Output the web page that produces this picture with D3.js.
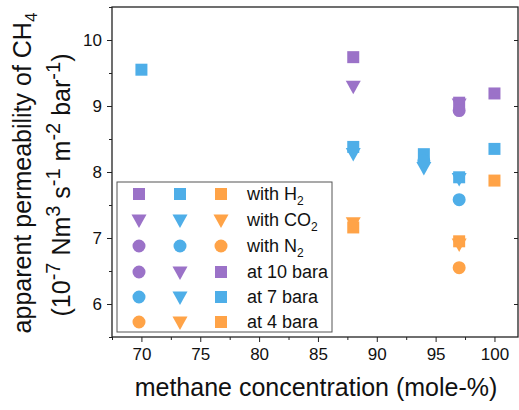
<!DOCTYPE html>
<html>
<head>
<meta charset="utf-8">
<script src="https://cdn.jsdelivr.net/npm/d3@7"></script>
<style>
  body { margin: 0; background: #fff; }
  svg { display: block; font-family: "Liberation Sans", Arial, sans-serif; }
</style>
</head>
<body>
<svg id="chart" width="519" height="410"></svg>
<script>
// CH4 permeability vs methane concentration, by co-gas and feed pressure
const pressures = ["10", "7", "4"];
const pressureColors = ["#9b72c8", "#4eaee8", "#ffa347"];
const gases = ["H2", "CO2", "N2"];
const gasShapes = ["square", "triangle", "circle"];

// [methane %, permeability] per gas and pressure
const h2_10 = [[88, 9.74], [97, 9.05], [100, 9.19]];
const h2_7 = [[70, 9.55], [88, 8.38], [94, 8.27], [97, 7.92], [100, 8.35]];
const h2_4 = [[88, 7.16], [97, 6.95], [100, 7.87]];
const co2_10 = [[88, 9.30], [97, 9.03]];
const co2_7 = [[88, 8.28], [94, 8.07], [97, 7.90]];
const co2_4 = [[88, 7.23], [97, 6.91]];
const n2_10 = [[97, 8.93]];
const n2_7 = [[94, 8.17], [97, 7.58]];
const n2_4 = [[97, 6.55]];

const xTicks = [70, 75, 80, 85, 90, 95, 100];
const yTicks = [6, 7, 8, 9, 10];

const series = [
  { shape: "square", color: 0, data: h2_10 },
  { shape: "square", color: 1, data: h2_7 },
  { shape: "square", color: 2, data: h2_4 },
  { shape: "triangle", color: 0, data: co2_10 },
  { shape: "triangle", color: 1, data: co2_7 },
  { shape: "triangle", color: 2, data: co2_4 },
  { shape: "circle", color: 0, data: n2_10 },
  { shape: "circle", color: 1, data: n2_7 },
  { shape: "circle", color: 2, data: n2_4 }
];

const svg = d3.select("#chart");
const plotL = 112, plotR = 518, plotT = 7, plotB = 337;

const x = d3.scaleLinear().domain([67.5, 102]).range([plotL, plotR]);
const y = d3.scaleLinear().domain([5.5, 10.5]).range([plotB, plotT]);

// symbol path generators
function symbolPath(shape, cx, cy) {
  if (shape === "square") {
    const s = 6;
    return `M${cx - s},${cy - s}H${cx + s}V${cy + s}H${cx - s}Z`;
  }
  if (shape === "triangle") {
    const w = 7.5, h1 = 5.5, h2 = 8;
    return `M${cx - w},${cy - h1}H${cx + w}L${cx},${cy + h2}Z`;
  }
  const r = 6.5;
  return `M${cx - r},${cy}A${r},${r} 0 1,0 ${cx + r},${cy}A${r},${r} 0 1,0 ${cx - r},${cy}Z`;
}

// axes
const fmt = d3.format("d");
svg.append("g").attr("transform", `translate(0,${plotB})`)
  .call(d3.axisBottom(x).tickValues(xTicks).tickFormat(fmt).tickSize(5).tickPadding(6));
svg.append("g").attr("transform", `translate(0,${plotB})`)
  .call(d3.axisBottom(x).tickValues(d3.range(67.5, 102.01, 2.5).filter(v => v % 5 !== 0)).tickFormat("").tickSize(3));
svg.append("g").attr("transform", `translate(${plotL},0)`)
  .call(d3.axisLeft(y).tickValues(yTicks).tickFormat(fmt).tickSize(5).tickPadding(5));
svg.append("g").attr("transform", `translate(${plotL},0)`)
  .call(d3.axisLeft(y).tickValues(d3.range(5.5, 10.51, 1)).tickFormat("").tickSize(3));
svg.append("g").attr("transform", `translate(${plotR},0)`)
  .call(d3.axisRight(y).tickValues(yTicks).tickFormat("").tickSize(-4));

svg.selectAll(".domain").remove();
svg.selectAll(".tick line").attr("stroke", "#222").attr("stroke-width", 1);
svg.selectAll(".tick text").attr("font-size", 17).attr("fill", "#111")
  .attr("font-family", "Liberation Sans, Arial, sans-serif");

// frame
svg.append("rect")
  .attr("x", plotL).attr("y", plotT)
  .attr("width", plotR - plotL).attr("height", plotB - plotT)
  .attr("fill", "none").attr("stroke", "#222").attr("stroke-width", 1.3);

// data markers
const marks = svg.append("g");
series.forEach(s => {
  marks.selectAll(null).data(s.data).enter().append("path")
    .attr("d", d => symbolPath(s.shape, x(d[0]), y(d[1])))
    .attr("fill", pressureColors[s.color]);
});

// legend
const lg = svg.append("g");
lg.append("rect").attr("x", 117).attr("y", 182).attr("width", 215).attr("height", 150)
  .attr("fill", "#fff").attr("stroke", "#555").attr("stroke-width", 1);
const rowY = [194, 220, 246, 272, 297, 322];
const colX = [139, 180, 221];

// rows 1-3: gas shape in three pressure colours
gases.forEach((g, i) => {
  colX.forEach((cx, j) => {
    lg.append("path").attr("d", symbolPath(gasShapes[i], cx, rowY[i])).attr("fill", pressureColors[j]);
  });
});
// rows 4-6: pressure colour in three shapes
const pressureShapes = ["circle", "triangle", "square"];
pressures.forEach((p, i) => {
  colX.forEach((cx, j) => {
    lg.append("path").attr("d", symbolPath(pressureShapes[j], cx, rowY[3 + i])).attr("fill", pressureColors[i]);
  });
});

const legendText = lg.append("g").attr("font-size", 18).attr("fill", "#111");
gases.forEach((g, i) => {
  const t = legendText.append("text").attr("x", 247).attr("y", rowY[i] + 6);
  t.append("tspan").text("with " + g.replace(/\d/, ""));
  t.append("tspan").attr("font-size", 12).attr("dy", 5).text(g.match(/\d/)[0]);
});
pressures.forEach((p, i) => {
  legendText.append("text").attr("x", 247).attr("y", rowY[3 + i] + 6).text(`at ${p} bara`);
});

// axis titles
svg.append("text").attr("x", 316).attr("y", 396).attr("text-anchor", "middle")
  .attr("font-size", 25).attr("fill", "#111").text("methane concentration (mole-%)");

const yt1 = svg.append("text").attr("transform", "translate(31,173) rotate(-90)")
  .attr("font-size", 25).attr("fill", "#111").attr("text-anchor", "middle");
yt1.append("tspan").text("apparent permeability of CH");
yt1.append("tspan").attr("font-size", 17).attr("dy", 6).text("4");

const yt2 = svg.append("text").attr("transform", "translate(70,185) rotate(-90)")
  .attr("font-size", 25).attr("fill", "#111").attr("text-anchor", "middle");
const parts = [["(10", "-7"], [" Nm", "3"], [" s", "-1"], [" m", "-2"], [" bar", "-1"]];
parts.forEach(([base, sup], i) => {
  yt2.append("tspan").attr("dy", i === 0 ? 0 : 10).text(base);
  yt2.append("tspan").attr("font-size", 20).attr("dy", -10).text(sup);
});
yt2.append("tspan").attr("dy", 10).text(")");
</script>
</body>
</html>
